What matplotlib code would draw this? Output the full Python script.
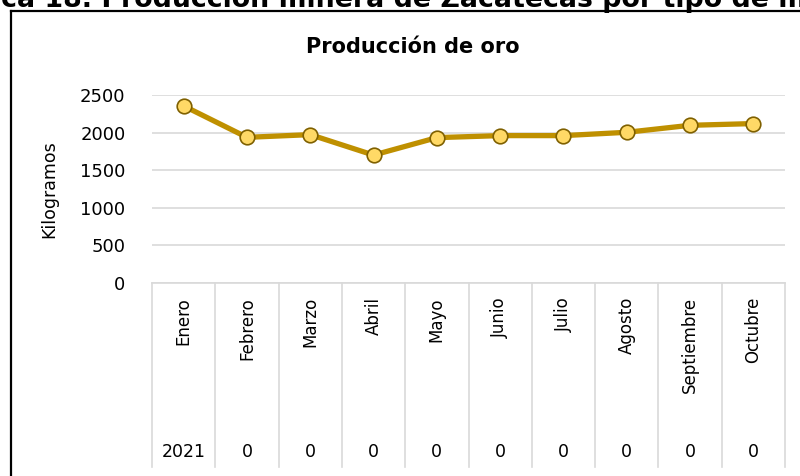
import matplotlib
matplotlib.use("Agg")
import matplotlib.pyplot as plt
from matplotlib.lines import Line2D
from matplotlib.font_manager import FontProperties
import matplotlib.transforms as mtransforms

plt.rcParams['font.family'] = ['DejaVu Sans']

# Data
meses = ['Enero', 'Febrero', 'Marzo', 'Abril', 'Mayo', 'Junio',
         'Julio', 'Agosto', 'Septiembre', 'Octubre']
anios = ['2021', '0', '0', '0', '0', '0', '0', '0', '0', '0']
oro_kg = [2355, 1937, 1973, 1701, 1933, 1960, 1960, 2004, 2097, 2120]
y_ticks = [0, 500, 1000, 1500, 2000, 2500]

W, H = 800, 476
fig = plt.figure(figsize=(W / 100, H / 100), dpi=100)
fig.patch.set_facecolor('white')


def fx(px):
    return px / W


def fy(py):
    return 1 - py / H


# page caption, cut off by the screenshot: "ca 18." starts at the left edge
caption = 'Gráfica 18. Producción minera de Zacatecas por tipo de mineral'
cap_fp = FontProperties(family='DejaVu Sans', weight='bold', size=19.3)
renderer = fig.canvas.get_renderer()
pre_w, _, _ = renderer.get_text_width_height_descent('Gráfi', cap_fp, ismath=False)
fig.text(fx(-pre_w + 1), fy(7), caption, ha='left', va='baseline',
         fontproperties=cap_fp, color='black')

# chart frame (left and top edges visible)
fig.add_artist(Line2D([fx(11), fx(11)], [fy(11), fy(480)], color='black', lw=1.6,
                      transform=fig.transFigure))
fig.add_artist(Line2D([fx(11), fx(805)], [fy(11), fy(11)], color='black', lw=1.6,
                      transform=fig.transFigure))

left, right, top, bottom = 152, 785, 95, 283
ax = fig.add_axes([fx(left), fy(bottom), fx(right - left), (bottom - top) / H])

x = list(range(len(meses)))
ax.plot(x, oro_kg, color='#BF9000', lw=3.8, marker='o', markersize=10.5,
        markerfacecolor='#FFD966', markeredgecolor='#7F6000', markeredgewidth=1.2,
        solid_capstyle='round', zorder=3)

ax.set_xlim(-0.5, len(meses) - 0.5)
ax.set_ylim(0, 2500)
ax.set_yticks(y_ticks)
ax.set_yticklabels([str(v) for v in y_ticks], fontsize=13)
ax.tick_params(axis='y', length=0, pad=19)
ax.set_xticks([])
ax.yaxis.grid(True, color='#D9D9D9', lw=1.2)
ax.set_axisbelow(True)
for s in ['top', 'right', 'left']:
    ax.spines[s].set_visible(False)
ax.spines['bottom'].set_color('#D9D9D9')
ax.spines['bottom'].set_linewidth(1.2)

ax.set_ylabel('Kilogramos', fontsize=12.5)
ax.yaxis.set_label_coords((58 - left) / (right - left), 0.5)

ax.set_title('Producción de oro', fontsize=15, fontweight='bold', pad=0,
             x=(413 - left) / (right - left), y=1 + (95 - 47) / (bottom - top), va='center')

# multi-level category axis
trans = mtransforms.blended_transform_factory(ax.transData, ax.transAxes)
h = bottom - top
for i in range(len(meses) + 1):
    ax.plot([i - 0.5, i - 0.5], [0, -(467 - bottom) / h], color='#D9D9D9', lw=1.2,
            transform=trans, clip_on=False)
for i, (m, a) in enumerate(zip(meses, anios)):
    ax.text(i, -(297 - bottom) / h, m, rotation=90, ha='center', va='top',
            fontsize=12, transform=trans)
    ax.text(i, -(452 - bottom) / h, a, ha='center', va='center',
            fontsize=12.5, transform=trans, family='Liberation Sans Narrow')

fig.savefig('out.png', dpi=100)
